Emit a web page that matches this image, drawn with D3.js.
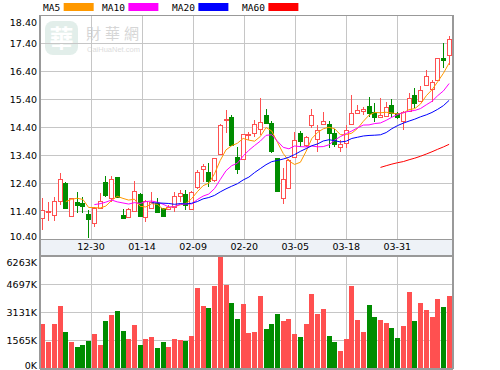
<!DOCTYPE html>
<html>
<head>
<meta charset="utf-8">
<script src="https://cdn.jsdelivr.net/npm/d3@7"></script>
<style>
  html, body { margin: 0; padding: 0; background: #fff; }
  svg { display: block; }
  text { font-family: "DejaVu Sans", sans-serif; font-size: 9.5px; fill: #000; }
</style>
</head>
<body>
<svg id="chart" width="500" height="370"></svg>
<script>
(() => {
  /* ---------- DATA ---------- */
  const opens = [
    11.14, 11.35, 11.28, 11.73, 12.41, 11.20, 11.71, 11.67, 11.28, 11.00,
    11.52, 12.43, 11.85, 12.60, 11.26, 11.18, 11.41, 12.02, 11.18, 11.50,
    11.67, 11.50, 11.47, 11.55, 11.94, 12.00, 11.50, 12.25, 12.89, 12.80,
    12.48, 13.44, 14.63, 14.77, 13.34, 13.25, 14.11, 14.17, 14.35, 14.83,
    14.53, 13.28, 11.85, 12.23, 13.34, 14.17, 13.78, 14.47, 13.97, 14.50,
    14.50, 14.17, 13.66, 13.82, 14.50, 14.89, 14.98, 15.15, 14.95, 14.77,
    14.79, 15.19, 14.89, 14.63, 14.95, 15.54, 15.34, 15.90, 15.78, 16.06,
    16.85, 16.97
  ];
  const highs = [
    11.87, 11.73, 11.91, 12.77, 12.45, 11.88, 12.09, 11.89, 11.44, 11.55,
    12.05, 12.66, 12.65, 12.63, 11.46, 11.50, 12.48, 12.05, 11.78, 12.09,
    11.85, 11.52, 11.60, 12.09, 12.15, 12.15, 12.10, 12.85, 13.08, 13.10,
    13.30, 14.50, 15.00, 14.83, 13.67, 14.16, 14.23, 14.65, 15.43, 15.04,
    14.60, 13.30, 12.93, 13.25, 14.23, 14.26, 14.08, 15.04, 14.47, 14.92,
    14.60, 14.33, 13.94, 14.47, 15.54, 15.19, 15.13, 15.48, 15.25, 15.42,
    15.30, 15.39, 14.95, 14.97, 15.60, 15.78, 15.85, 16.43, 16.08, 16.88,
    17.41, 17.65
  ];
  const lows = [
    10.72, 11.05, 11.04, 11.61, 11.50, 11.20, 11.34, 11.34, 10.42, 10.82,
    11.50, 11.91, 11.73, 11.85, 11.14, 11.16, 11.38, 11.20, 11.02, 11.48,
    11.33, 11.20, 11.42, 11.38, 11.73, 11.44, 11.45, 12.20, 12.45, 12.27,
    12.45, 13.40, 14.20, 13.74, 12.72, 13.24, 13.95, 14.05, 14.11, 14.50,
    13.46, 12.08, 11.65, 12.20, 13.30, 13.69, 13.70, 14.36, 13.50, 14.48,
    13.64, 13.70, 13.50, 13.64, 14.48, 14.87, 14.83, 14.75, 14.59, 14.75,
    14.77, 14.75, 14.70, 14.29, 14.93, 15.07, 15.30, 15.88, 15.30, 16.04,
    16.50, 16.61
  ];
  const closes = [
    11.44, 11.40, 11.77, 12.53, 11.53, 11.85, 11.60, 11.55, 11.10, 11.52,
    11.76, 11.95, 12.53, 11.87, 11.14, 11.46, 12.11, 11.25, 11.76, 11.73,
    11.35, 11.23, 11.55, 11.94, 12.03, 11.59, 12.09, 12.80, 13.01, 12.48,
    13.28, 14.46, 14.68, 13.76, 12.92, 14.14, 14.15, 14.50, 14.59, 14.53,
    13.52, 12.11, 12.53, 13.22, 13.94, 13.90, 14.05, 14.83, 14.29, 14.61,
    14.17, 13.78, 13.78, 14.29, 14.89, 15.01, 15.04, 14.89, 14.77, 14.83,
    15.10, 14.89, 14.75, 14.95, 15.42, 15.27, 15.72, 16.22, 16.02, 16.85,
    16.79, 17.54
  ];
  // volume in thousands of shares
  const volumes = [
    2460, 1471, 2460, 3467, 2013, 1454, 1174, 1286, 1510, 1901,
    1286, 2628, 2964, 3187, 2087, 1622, 2405, 1286, 1622, 1734,
    1118, 1454, 1174, 1622, 1566, 1510, 1790, 4474, 3467, 3355,
    4586, 6263, 4641, 3653, 2740, 3579, 1976, 2031, 4026, 2181,
    2460, 3020, 2628, 2740, 1901, 1734, 2460, 4138, 3020, 3299,
    1790, 1454, 951, 1622, 4586, 2684, 2013, 3523, 2852, 2684,
    2516, 2237, 1678, 2349, 4250, 2628, 3653, 3243, 2852, 3858,
    3411, 4026
  ];

  const dateTicks = ["12-30", "01-14", "02-09", "02-20", "03-05", "03-18", "03-31"];
  const priceTicks = [10.40, 11.40, 12.40, 13.40, 14.40, 15.40, 16.40, 17.40, 18.40];
  const volumeTicks = [0, 1565, 3131, 4697, 6263];

  const maNames = ["MA5", "MA10", "MA20", "MA60"];
  const maPeriods = [5, 10, 20, 60];
  const maColors = ["#ff9900", "#ff00ff", "#0000ff", "#ff0000"];

  const UP = "#ff5050";
  const DOWN = "#008c00";
  const GRID = "#c6c6c6";
  const BORDER = "#999";

  /* ---------- LAYOUT ---------- */
  const left = 40, right = 452;
  const priceTop = 15, priceBottom = 239;
  const volTop = 256, volBottom = 368;

  const svg = d3.select("#chart");
  const idx = d3.range(closes.length);

  const x = d3.scaleBand()
    .domain(idx)
    .range([left, right])
    .paddingInner(0.14)
    .paddingOuter(0.07);

  const gridX = d3.scaleLinear().domain([0, 8]).range([left, 448.4]);

  const y = d3.scaleLinear()
    .domain([priceTicks[0], priceTicks[priceTicks.length - 1]])
    .range([priceBottom, priceTop]);

  const yv = d3.scaleLinear()
    .domain([0, volumeTicks[volumeTicks.length - 1]])
    .range([volBottom, volTop]);

  /* ---------- WATERMARK ---------- */
  const wm = svg.append("g");
  wm.append("rect")
    .attr("x", 45).attr("y", 21).attr("width", 33).attr("height", 34)
    .attr("rx", 8).attr("fill", "#e2eeea");
  wm.append("text")
    .attr("x", 61.5).attr("y", 47)
    .attr("text-anchor", "middle")
    .style("font-family", "'Noto Sans CJK TC', sans-serif")
    .style("font-size", "24px")
    .style("font-weight", "bold")
    .style("fill", "#fff")
    .text("華");
  wm.append("text")
    .attr("x", 86).attr("y", 39)
    .style("font-family", "'Noto Sans CJK TC', sans-serif")
    .style("font-size", "15px")
    .style("letter-spacing", "4px")
    .style("fill", "#d6d6d6")
    .text("財華網");
  wm.append("text")
    .attr("x", 87).attr("y", 52)
    .style("font-family", "Arial, 'Liberation Sans', sans-serif")
    .style("font-size", "7.5px")
    .style("fill", "#dcdcdc")
    .text("CaiHuaNet.com");

  /* ---------- GRID ---------- */
  const grid = svg.append("g").attr("shape-rendering", "crispEdges");

  // vertical lines in both panes
  d3.range(1, 8).forEach(k => {
    const gx = Math.round(gridX(k)) + 0.5;
    [[priceTop, priceBottom], [volTop, volBottom]].forEach(([a, b]) => {
      grid.append("line")
        .attr("x1", gx).attr("x2", gx).attr("y1", a).attr("y2", b)
        .attr("stroke", GRID).attr("stroke-width", 1.3);
    });
  });

  grid.append("g")
    .call(d3.axisLeft(y).tickValues(priceTicks.slice(1, -1)).tickSize(-(right - left)).tickFormat(""))
    .attr("transform", `translate(${left},0)`)
    .call(g => g.select(".domain").remove())
    .call(g => g.selectAll("line").attr("stroke", GRID).attr("stroke-width", 1.3));

  grid.append("g")
    .call(d3.axisLeft(yv).tickValues(volumeTicks.slice(1, -1)).tickSize(-(right - left)).tickFormat(""))
    .attr("transform", `translate(${left},0)`)
    .call(g => g.select(".domain").remove())
    .call(g => g.selectAll("line").attr("stroke", GRID).attr("stroke-width", 1.3));

  // date strip
  svg.append("rect")
    .attr("x", left).attr("y", priceBottom)
    .attr("width", right - left).attr("height", volTop - priceBottom)
    .attr("fill", "#eef2f7");

  svg.append("g")
    .selectAll("text")
    .data(dateTicks)
    .join("text")
    .attr("x", (d, i) => gridX(i + 1))
    .attr("y", 250)
    .attr("text-anchor", "middle")
    .text(d => d);

  /* ---------- AXIS LABELS ---------- */
  svg.append("g")
    .attr("transform", `translate(${left},0)`)
    .call(d3.axisLeft(y).tickValues(priceTicks).tickSize(0).tickPadding(3).tickFormat(d3.format(".2f")))
    .call(g => g.select(".domain").remove())
    .call(g => g.selectAll("text")
      .style("font-family", "'DejaVu Sans', sans-serif")
      .style("font-size", "9.5px")
      .attr("fill", "#000")
      .attr("dy", (d, i) => i === 0 ? "0.0em" : i === priceTicks.length - 1 ? "1.15em" : "0.32em"));

  svg.append("g")
    .attr("transform", `translate(${left},0)`)
    .call(d3.axisLeft(yv).tickValues(volumeTicks).tickSize(0).tickPadding(3).tickFormat(d => d + "K"))
    .call(g => g.select(".domain").remove())
    .call(g => g.selectAll("text")
      .style("font-family", "'DejaVu Sans', sans-serif")
      .style("font-size", "9.5px")
      .attr("fill", "#000")
      .attr("dy", (d, i) => i === 0 ? "0.1em" : i === volumeTicks.length - 1 ? "1.05em" : "0.32em"));

  /* ---------- VOLUME ---------- */
  const isUp = i => closes[i] >= opens[i];

  svg.append("g")
    .attr("shape-rendering", "crispEdges")
    .selectAll("rect")
    .data(idx)
    .join("rect")
    .attr("x", i => Math.round(x(i)))
    .attr("width", 5)
    .attr("y", i => yv(volumes[i]))
    .attr("height", i => volBottom - yv(volumes[i]))
    .attr("fill", i => isUp(i) ? UP : DOWN);

  /* ---------- CANDLES ---------- */
  const candles = svg.append("g").attr("shape-rendering", "crispEdges");

  candles.selectAll("line")
    .data(idx)
    .join("line")
    .attr("x1", i => Math.round(x(i)) + 2.5)
    .attr("x2", i => Math.round(x(i)) + 2.5)
    .attr("y1", i => y(highs[i]))
    .attr("y2", i => y(lows[i]))
    .attr("stroke", i => isUp(i) ? UP : DOWN);

  candles.selectAll("rect")
    .data(idx)
    .join("rect")
    .attr("x", i => Math.round(x(i)) + 0.5)
    .attr("width", 4)
    .attr("y", i => Math.round(y(Math.max(opens[i], closes[i]))) + 0.5)
    .attr("height", i => Math.max(1, Math.round(Math.abs(y(opens[i]) - y(closes[i])))))
    .attr("fill", i => isUp(i) ? "#fff" : DOWN)
    .attr("stroke", i => isUp(i) ? UP : DOWN);

  /* ---------- MOVING AVERAGES ---------- */
  const cx = i => x(i) + x.bandwidth() / 2;

  maPeriods.forEach((n, k) => {
    const pts = idx
      .filter(i => i >= n - 1)
      .map(i => [cx(i), y(d3.mean(closes.slice(i - n + 1, i + 1)))]);
    svg.append("path")
      .attr("d", d3.line()(pts))
      .attr("fill", "none")
      .attr("stroke", maColors[k])
      .attr("stroke-width", 1);
  });

  /* ---------- FRAME ---------- */
  const frame = svg.append("g").attr("shape-rendering", "crispEdges").attr("stroke", BORDER).attr("fill", "none");
  frame.append("line").attr("x1", left).attr("x2", left).attr("y1", priceTop).attr("y2", volBottom + 1).attr("stroke-width", 2);
  frame.append("line").attr("x1", right + 0.5).attr("x2", right + 0.5).attr("y1", priceTop).attr("y2", volBottom + 1).attr("stroke-width", 2);
  frame.append("line").attr("x1", left).attr("x2", right + 1).attr("y1", priceTop + 0.5).attr("y2", priceTop + 0.5).attr("stroke-width", 1);
  frame.append("line").attr("x1", left).attr("x2", right + 1).attr("y1", priceBottom + 0.5).attr("y2", priceBottom + 0.5).attr("stroke-width", 1);
  frame.append("line").attr("x1", left).attr("x2", right + 1).attr("y1", volTop).attr("y2", volTop).attr("stroke-width", 2);
  frame.append("line").attr("x1", left).attr("x2", right + 1).attr("y1", volBottom + 0.5).attr("y2", volBottom + 0.5).attr("stroke-width", 2);

  /* ---------- LEGEND ---------- */
  const legendX = [43, 102, 172, 242];
  const legend = svg.append("g")
    .selectAll("g")
    .data(maNames)
    .join("g")
    .attr("transform", (d, i) => `translate(${legendX[i]},0)`);

  legend.append("text")
    .attr("y", 10.8)
    .style("font-family", "'DejaVu Sans Mono', monospace")
    .style("font-size", "9.5px")
    .text(d => d);

  legend.each(function (d, i) {
    const w = d3.select(this).select("text").node().getComputedTextLength();
    d3.select(this).append("rect")
      .attr("x", w + 3.5).attr("y", 3)
      .attr("width", 30).attr("height", 8)
      .attr("fill", maColors[i]);
  });
})();
</script>
</body>
</html>
